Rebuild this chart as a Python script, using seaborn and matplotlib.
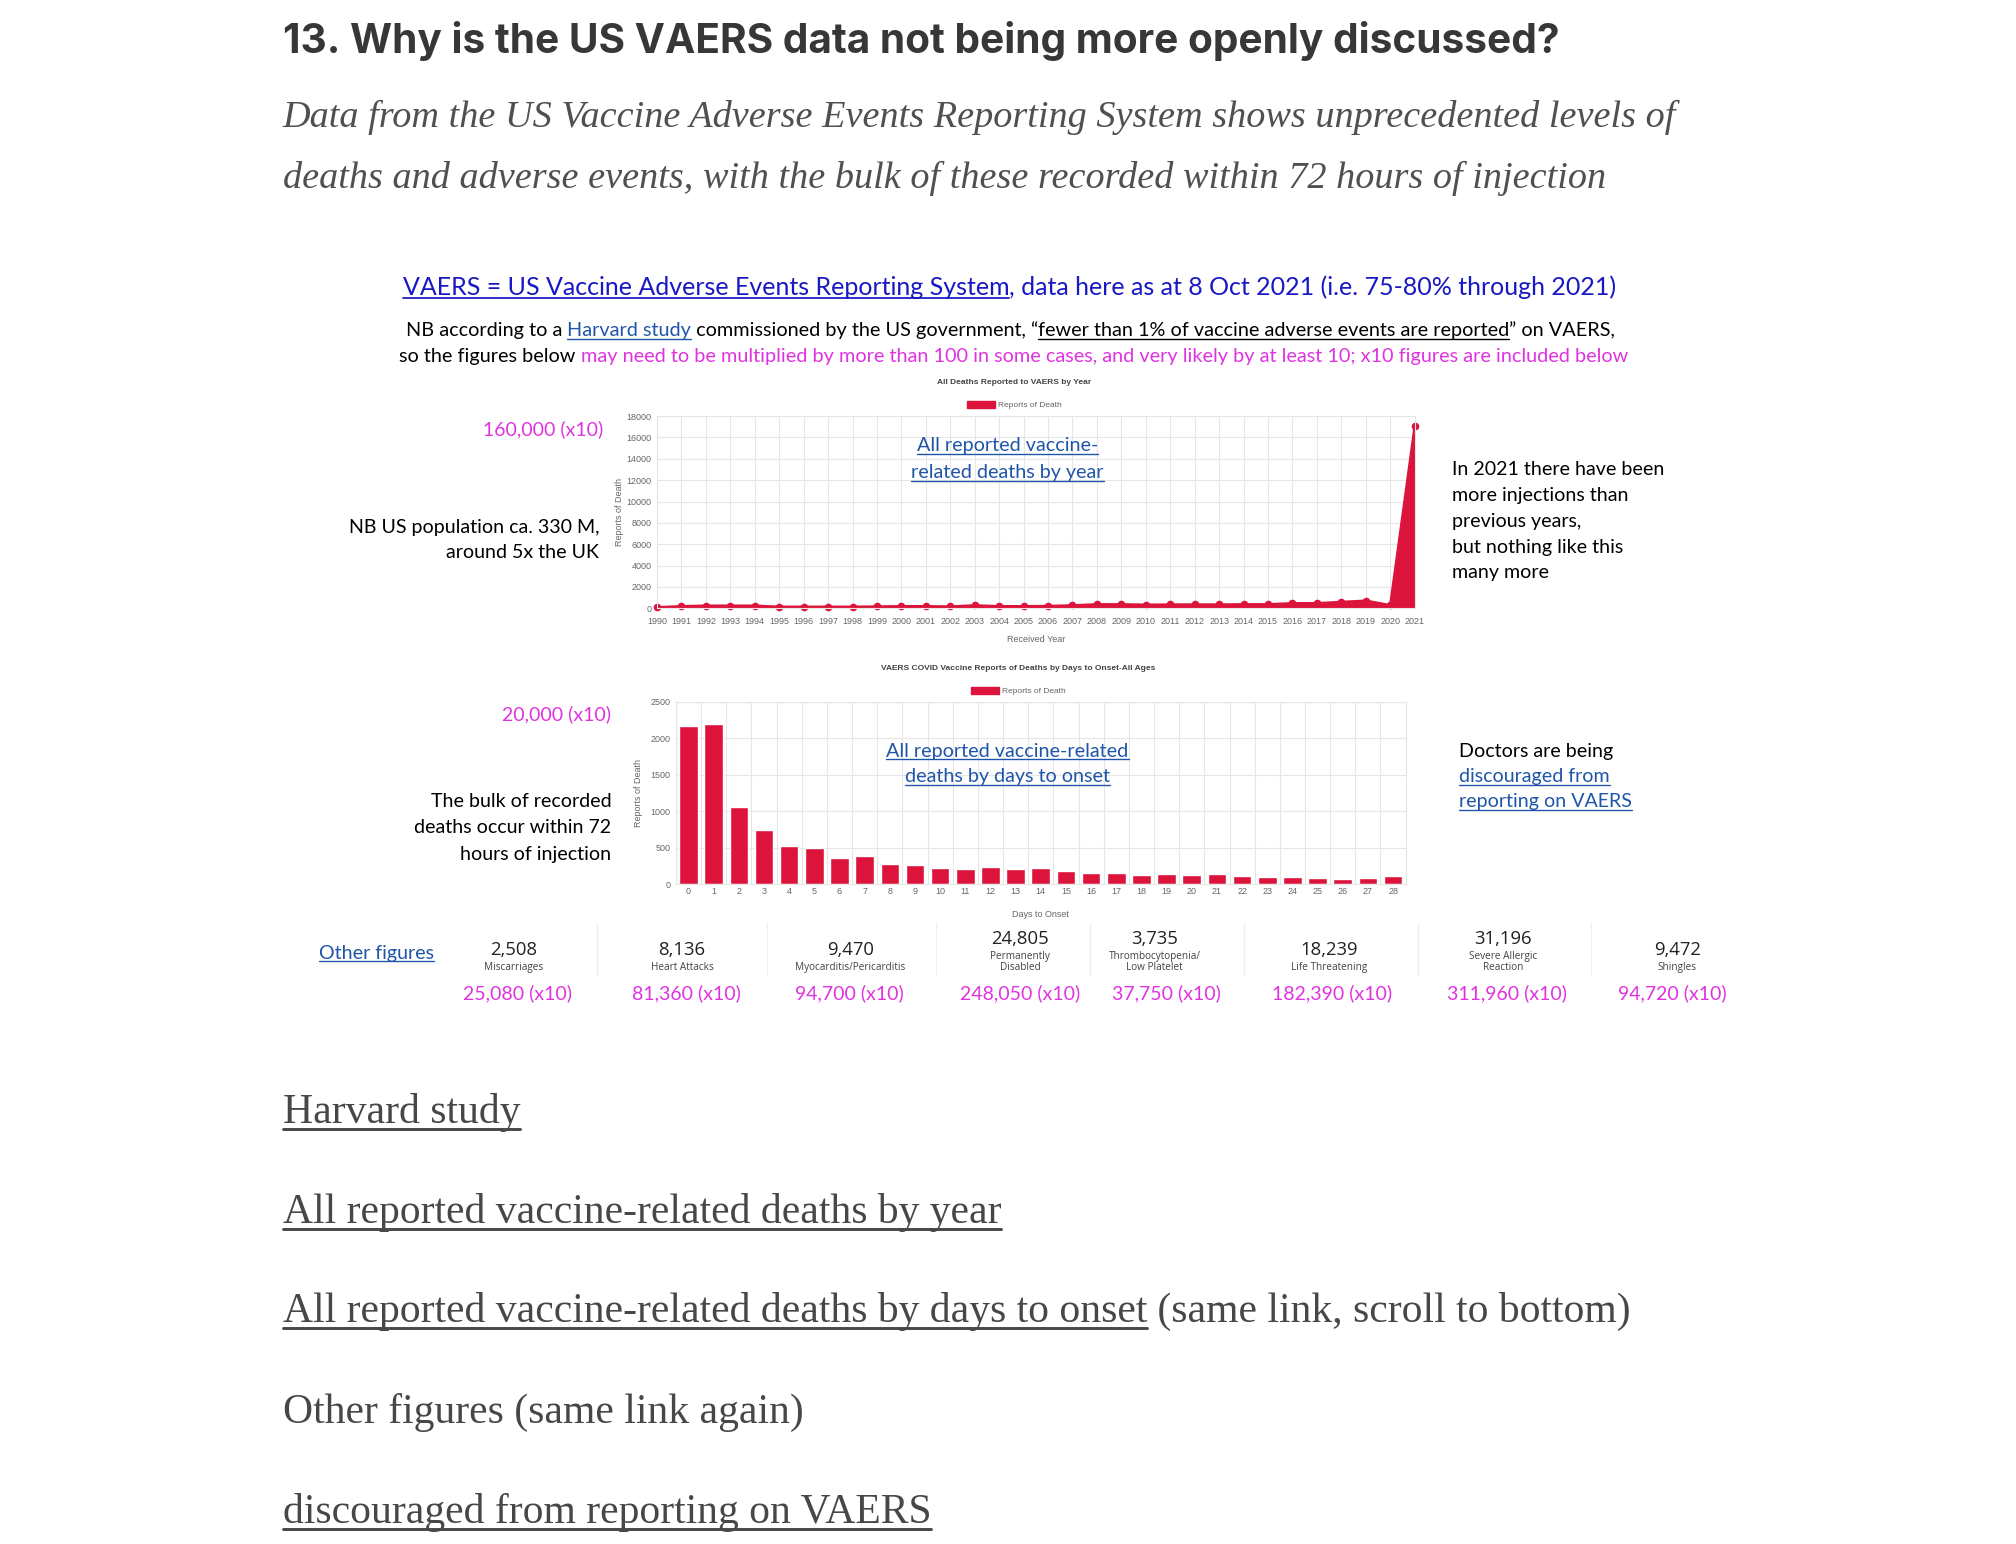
import matplotlib
matplotlib.use('Agg')
import matplotlib.pyplot as plt
from matplotlib.lines import Line2D
from matplotlib.patches import Patch
from matplotlib.ticker import MultipleLocator
import seaborn as sns

# deaths reported to VAERS by received year
years = list(range(1990, 2022))
deaths_by_year = [100, 200, 250, 250, 250, 150, 150, 150, 150, 170, 200, 200, 170, 280, 200, 200,
                  220, 280, 380, 380, 340, 360, 360, 360, 380, 380, 480, 480, 600, 720, 300, 17060]

# covid vaccine death reports by days to onset
onset_days = list(range(29))
deaths_by_onset = [2164, 2191, 1062, 740, 522, 490, 358, 386, 272, 259, 218, 200, 231, 204, 222,
                   181, 154, 154, 122, 136, 122, 141, 113, 95, 100, 86, 68, 82, 104]

# other figures row
other_values = ['2,508', '8,136', '9,470', '24,805', '3,735', '18,239', '31,196', '9,472']
other_labels = ['Miscarriages', 'Heart Attacks', 'Myocarditis/Pericarditis', 'Permanently\nDisabled',
                'Thrombocytopenia/\nLow Platelet', 'Life Threatening', 'Severe Allergic\nReaction', 'Shingles']
other_x10 = ['25,080 (x10)', '81,360 (x10)', '94,700 (x10)', '248,050 (x10)', '37,750 (x10)',
             '182,390 (x10)', '311,960 (x10)', '94,720 (x10)']

RED = '#dc143c'
MAGENTA = '#e033e0'
LINK = '#1f55a8'
HEAD_BLUE = '#1818c4'
CHART_TXT = '#666666'
GRID = '#e6e6e6'
CHART_FS = 6.5

sns.set_style('white')
plt.rcParams['font.family'] = ['Liberation Sans', 'DejaVu Sans']

W, H = 2016, 1544
K = 0.9955  # layout coordinates were read a touch large
fig = plt.figure(figsize=(W / 100, H / 100), dpi=100, facecolor='white')
R = fig.canvas.get_renderer()


def fx(x):
    return x * K / W


def fy(y):
    return 1 - y * K / H


def width_of(s, **kw):
    t = fig.text(0, 0, s, **kw)
    w = t.get_window_extent(R).width
    t.remove()
    return w


def fit_size(s, target, **kw):
    return 20 * target * K / width_of(s, fontsize=20, **kw)


def underline(x0, x1, y, color, lw):
    fig.add_artist(Line2D([x0 / W, x1 / W], [1 - y / H, 1 - y / H], color=color, lw=lw))


def rich(pieces, x, y, size, ha='left', **kw):
    # pieces: (text, color, underlined); x, y in layout pixels
    x, y = x * K, y * K
    full = ''.join(p[0] for p in pieces)
    total = width_of(full, fontsize=size, **kw)
    x0 = x - total / 2 if ha == 'center' else (x - total if ha == 'right' else x)
    ref = width_of('x', fontsize=size, **kw)
    prefix = ''
    for s, color, ul in pieces:
        off = width_of(prefix + 'x', fontsize=size, **kw) - ref if prefix else 0
        fig.text((x0 + off) / W, 1 - y / H, s, color=color, fontsize=size, va='baseline', ha='left', **kw)
        if ul:
            w = width_of(s, fontsize=size, **kw)
            underline(x0 + off, x0 + off + w, y + size * 0.2, color, size * 0.07)
        prefix += s


# ---- heading and intro ----
s = '13. Why is the US VAERS data not being more openly discussed?'
fig.text(fx(284), fy(53), s, fontsize=fit_size(s, 1286, family='Inter', weight='bold'),
         family='Inter', weight='bold', color='#363737', va='baseline')

intro = ['Data from the US Vaccine Adverse Events Reporting System shows unprecedented levels of',
         'deaths and adverse events, with the bulk of these recorded within 72 hours of injection']
isize = fit_size(intro[0], 1400, family='Liberation Serif', style='italic')
for line, yb in zip(intro, [128, 189]):
    fig.text(fx(284), fy(yb), line, fontsize=isize, family='Liberation Serif', style='italic',
             color='#505050', va='baseline')

# ---- blue header + NB lines ----
head = [('VAERS = US Vaccine Adverse Events Reporting System', HEAD_BLUE, True),
        (', data here as at 8 Oct 2021 (i.e. 75-80% through 2021)', HEAD_BLUE, False)]
hsize = fit_size(''.join(p[0] for p in head), 1222, family='Lato')
rich(head, 1014, 296, hsize, ha='center', family='Lato')

nb1 = [('NB according to a ', 'black', False), ('Harvard study', LINK, True),
       (' commissioned by the US government, \u201c', 'black', False),
       ('fewer than 1% of vaccine adverse events are reported', 'black', True),
       ('\u201d on VAERS,', 'black', False)]
nb2 = [('so the figures below ', 'black', False),
       ('may need to be multiplied by more than 100 in some cases, and very likely by at least 10; '
        'x10 figures are included below', MAGENTA, False)]
nbsize = fit_size(''.join(p[0] for p in nb2), 1239, family='Lato')
rich(nb1, 1015, 338, nbsize, ha='center', family='Lato')
rich(nb2, 1018, 364, nbsize, ha='center', family='Lato')

# ---- chart 1: deaths by year ----
ax1 = fig.add_axes([fx(660), fy(611), K * (1421 - 660) / W, K * (611 - 418) / H])
ax1.fill_between(years, deaths_by_year, color=RED, lw=0)
sns.lineplot(x=years, y=deaths_by_year, ax=ax1, color=RED, lw=1.6, marker='o',
             markersize=5.5, markeredgewidth=0, clip_on=False)
ax1.set_xlim(1990, 2021)
ax1.set_ylim(0, 18000)
ax1.set_xticks(years)
ax1.yaxis.set_major_locator(MultipleLocator(2000))
ax1.set_xlabel('Received Year', fontsize=CHART_FS, color=CHART_TXT)
ax1.set_ylabel('Reports of Death', fontsize=CHART_FS, color=CHART_TXT)
ax1.xaxis.set_label_coords(0.5, -0.14)
ax1.yaxis.set_label_coords(-0.043, 0.5)

# ---- chart 2: deaths by days to onset ----
ax2 = fig.add_axes([fx(679), fy(888), K * (1412 - 679) / W, K * (888 - 705) / H])
sns.barplot(x=onset_days, y=deaths_by_onset, ax=ax2, color=RED, saturation=1, width=0.74)
ax2.set_xlim(-0.5, 28.5)
ax2.set_ylim(0, 2500)
ax2.yaxis.set_major_locator(MultipleLocator(500))
ax2.set_xticks(range(29), [str(d) for d in onset_days])
ax2.set_xticks([d + 0.5 for d in range(-1, 29)], minor=True)
ax2.set_xlabel('Days to Onset', fontsize=CHART_FS, color=CHART_TXT)
ax2.set_ylabel('Reports of Death', fontsize=CHART_FS, color=CHART_TXT)
ax2.xaxis.set_label_coords(0.5, -0.142)
ax2.yaxis.set_label_coords(-0.045, 0.5)

for ax in (ax1, ax2):
    ax.set_axisbelow(True)
    ax.grid(True, axis='y', color=GRID, lw=0.8)
    ax.tick_params(labelsize=CHART_FS, labelcolor=CHART_TXT, color=GRID, length=4, width=0.8, pad=2)
    ax.tick_params(axis='y', length=0, pad=4)
    for sp in ax.spines.values():
        sp.set_color(GRID)
        sp.set_linewidth(0.8)
ax1.grid(True, axis='x', color=GRID, lw=0.8)
ax2.grid(True, axis='x', which='minor', color=GRID, lw=0.8)
ax2.tick_params(axis='x', which='major', length=0)
ax2.tick_params(axis='x', which='minor', length=4, color=GRID)

chart_heads = [('All Deaths Reported to VAERS by Year', 1019, 384, 1019, 407),
               ('VAERS COVID Vaccine Reports of Deaths by Days to Onset-All Ages', 1023, 672, 1023, 694)]
for title, tx, ty, lx, ly in chart_heads:
    fig.text(fx(tx), fy(ty), title, fontsize=CHART_FS - 0.5, weight='bold', color='#444444',
             ha='center', va='center')
    fig.legend(handles=[Patch(facecolor=RED, edgecolor=RED, label='Reports of Death')],
               loc='center', bbox_to_anchor=(fx(lx), fy(ly)), frameon=False, fontsize=CHART_FS - 0.5,
               labelcolor=CHART_TXT, handlelength=3.4, handleheight=1.0, handletextpad=0.4)

# ---- side notes ----
asize = fit_size('NB US population ca. 330 M,', 251, family='Lato')
lsize = fit_size('All reported vaccine-related', 244, family='Lato')
msize = fit_size('160,000 (x10)', 121, family='Lato')

rich([('160,000 (x10)', MAGENTA, False)], 606, 437, msize, ha='right', family='Lato')
rich([('20,000 (x10)', MAGENTA, False)], 614, 723, msize, ha='right', family='Lato')
for line, yb in zip(['NB US population ca. 330 M,', 'around 5x the UK'], [535, 561]):
    rich([(line, 'black', False)], 602, yb, asize, ha='right', family='Lato')
for line, yb in zip(['The bulk of recorded', 'deaths occur within 72', 'hours of injection'], [811, 837, 864]):
    rich([(line, 'black', False)], 614, yb, asize, ha='right', family='Lato')
for line, yb in zip(['All reported vaccine-', 'related deaths by year'], [453, 480]):
    rich([(line, LINK, True)], 1012, yb, lsize, ha='center', family='Lato')
for line, yb in zip(['All reported vaccine-related', 'deaths by days to onset'], [760, 786]):
    rich([(line, LINK, True)], 1012, yb, lsize, ha='center', family='Lato')
right_note = ['In 2021 there have been', 'more injections than', 'previous years,',
              'but nothing like this', 'many more']
for i, line in enumerate(right_note):
    rich([(line, 'black', False)], 1459, 477 + i * 26, asize, family='Lato')
rich([('Doctors are being', 'black', False)], 1466, 760, asize, family='Lato')
rich([('discouraged from', LINK, True)], 1466, 786, asize, family='Lato')
rich([('reporting on VAERS', LINK, True)], 1466, 811, asize, family='Lato')

# ---- other figures row ----
rich([('Other figures', LINK, True)], 320, 963, asize, family='Lato')
num_x = [516, 685, 854, 1025, 1160, 1335, 1510, 1685]
x10_x = [520, 690, 853, 1025, 1172, 1338, 1514, 1680]
for sx in [600, 770, 940, 1095, 1250, 1424, 1598]:
    fig.add_artist(Line2D([fx(sx), fx(sx)], [fy(927), fy(980)], color='#f0f0f0', lw=1))
nsize = fit_size('24,805', 58, family='Open Sans')
ssize = fit_size('Myocarditis/Pericarditis', 110, family='Open Sans')
for val, lab, x10, cx, mx in zip(other_values, other_labels, other_x10, num_x, x10_x):
    lines = lab.split('\n')
    top = 948 if len(lines) == 2 else 959
    fig.text(fx(cx), fy(top), val, fontsize=nsize, family='Open Sans', color='#222222',
             ha='center', va='baseline')
    for j, ln in enumerate(lines):
        fig.text(fx(cx), fy(top + 15 + j * 11), ln, fontsize=ssize, family='Open Sans',
                 color='#444444', ha='center', va='baseline')
    rich([(x10, MAGENTA, False)], mx, 1004, msize, ha='center', family='Lato')

# ---- link list at the bottom ----
bsize = fit_size('All reported vaccine-related deaths by year', 721, family='Liberation Serif')
BODY = '#474747'
links = [([('Harvard study', BODY, True)], 1128),
         ([('All reported vaccine-related deaths by year', BODY, True)], 1229),
         ([('All reported vaccine-related deaths by days to onset', BODY, True),
           (' (same link, scroll to bottom)', BODY, False)], 1328),
         ([('Other figures (same link again)', BODY, False)], 1429),
         ([('discouraged from reporting on VAERS', BODY, True)], 1530)]
for pieces, yb in links:
    rich(pieces, 284, yb, bsize, family='Liberation Serif')

fig.savefig('out.png', dpi=100, facecolor='white')
